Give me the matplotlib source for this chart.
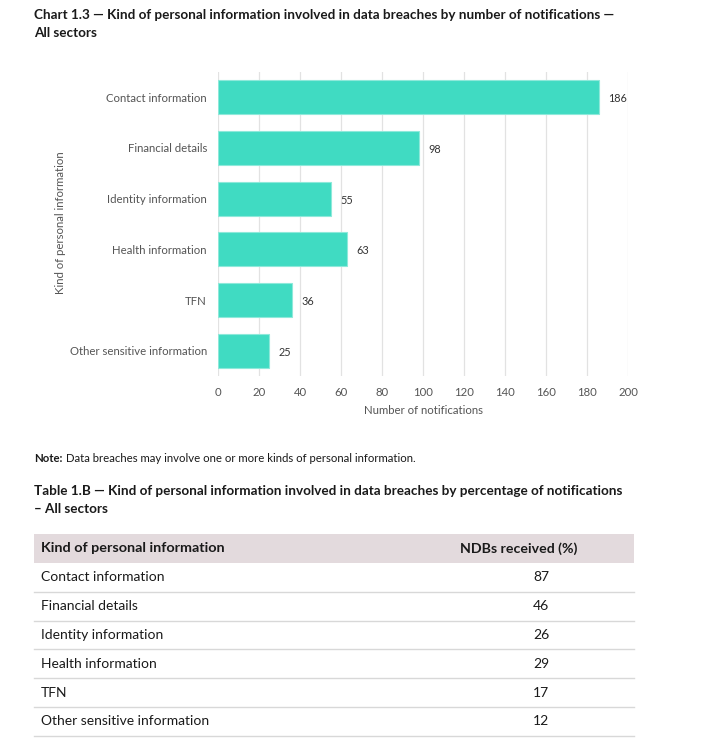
import matplotlib.pyplot as plt
from matplotlib.patches import Rectangle

plt.rcParams["font.family"] = ["Lato", "DejaVu Sans"]

# chart data
categories = [
    "Contact information",
    "Financial details",
    "Identity information",
    "Health information",
    "TFN",
    "Other sensitive information",
]
notifications = [186, 98, 55, 63, 36, 25]
x_ticks = [0, 20, 40, 60, 80, 100, 120, 140, 160, 180, 200]

# table data
table_header = ["Kind of personal information", "NDBs received (%)"]
table_kinds = categories
table_pct = [87, 46, 26, 29, 17, 12]

W, H = 703, 751
fig = plt.figure(figsize=(W / 100, H / 100), dpi=100)

# background axes in pixel coordinates for text and table
bg = fig.add_axes([0, 0, 1, 1])
bg.set_xlim(0, W)
bg.set_ylim(H, 0)
bg.axis("off")

TEXT = "#1a1a1a"
GREY = "#555555"
SMALL = 8.2

bg.text(34, 15, "Chart 1.3 — Kind of personal information involved in data breaches by number of notifications —",
        fontsize=9.75, fontweight="bold", color=TEXT, va="center", ha="left")
bg.text(34, 33, "All sectors", fontsize=9.75, fontweight="bold", color=TEXT, va="center", ha="left")

# bar chart
ax = fig.add_axes([218 / W, 1 - 376 / H, 410 / W, 304 / H])
ypos = list(range(len(categories)))
ax.barh(ypos, notifications, height=0.67, color="#40dbc2", edgecolor="#8ee9da", linewidth=0.8, zorder=3)
for y, v in zip(ypos, notifications):
    ax.text(v + 4.5, y + 0.03, str(v), va="center", ha="left", fontsize=7.8, color="#333333")
ax.set_ylim(len(categories) - 0.5, -0.5)
ax.set_xlim(0, 200)
ax.set_xticks(x_ticks)
ax.set_xticklabels([str(t) for t in x_ticks], fontsize=SMALL, color=GREY)
ax.set_yticks(ypos)
ax.set_yticklabels(categories, fontsize=SMALL, color=GREY)
ax.tick_params(axis="both", length=0)
ax.tick_params(axis="y", pad=8)
ax.tick_params(axis="x", pad=8)
ax.grid(axis="x", color="#e2e2e2", linewidth=0.9, zorder=0)
for s in ax.spines.values():
    s.set_visible(False)
ax.set_xlabel("Number of notifications", fontsize=SMALL, color=GREY, labelpad=5)
bg.text(60, 223, "Kind of personal information", rotation=90, fontsize=SMALL, color=GREY,
        va="center", ha="center")

# note
bg.text(34, 458, "Note:", fontsize=SMALL, fontweight="bold", color=TEXT, va="center", ha="left")
bg.text(66, 458, "Data breaches may involve one or more kinds of personal information.",
        fontsize=SMALL, color=TEXT, va="center", ha="left")

# table title
bg.text(34, 491, "Table 1.B — Kind of personal information involved in data breaches by percentage of notifications",
        fontsize=9.75, fontweight="bold", color=TEXT, va="center", ha="left")
bg.text(34, 509, "– All sectors", fontsize=9.75, fontweight="bold", color=TEXT, va="center", ha="left")

# table
tx0, tx1 = 34, 634
hdr_top, hdr_bot = 534, 563
row_h = 28.8
bg.add_patch(Rectangle((tx0, hdr_top), tx1 - tx0, hdr_bot - hdr_top, color="#e3dadd", lw=0))
bg.text(41, (hdr_top + hdr_bot) / 2, table_header[0], fontsize=10.4, fontweight="bold",
        color=TEXT, va="center", ha="left")
bg.text(519, (hdr_top + hdr_bot) / 2, table_header[1], fontsize=10.2, fontweight="bold",
        color=TEXT, va="center", ha="center")
for i, (kind, pct) in enumerate(zip(table_kinds, table_pct)):
    top = hdr_bot + i * row_h
    yc = top + row_h / 2
    bg.text(41, yc, kind, fontsize=10, color=TEXT, va="center", ha="left")
    bg.text(541, yc, str(pct), fontsize=10, color=TEXT, va="center", ha="center")
    bg.plot([tx0, tx1], [top + row_h, top + row_h], color="#d8d8d8", lw=1)

fig.savefig("out.png", dpi=100)
